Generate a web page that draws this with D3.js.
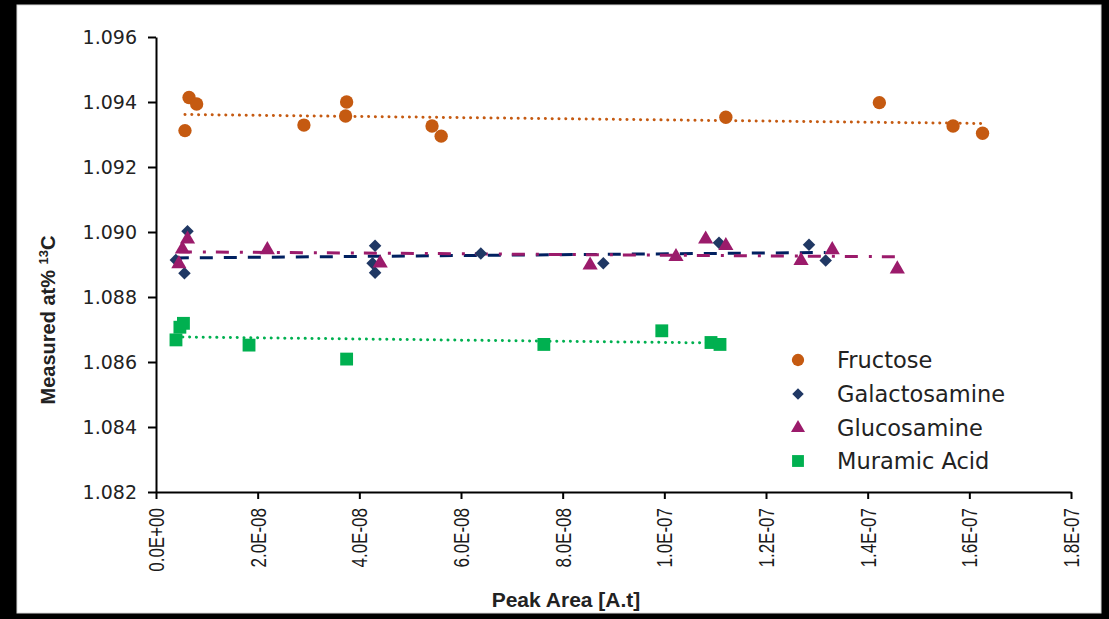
<!DOCTYPE html>
<html><head><meta charset="utf-8">
<script src="https://cdn.jsdelivr.net/npm/d3@7"></script>
<style>html,body{margin:0;padding:0;background:#000;}svg{display:block;}</style>
</head><body>
<svg id="chart" width="1109" height="619"></svg>
<script>
// ---- data ----
const seriesNames = ["Fructose", "Galactosamine", "Glucosamine", "Muramic Acid"];
const fructoseX = [6.5e-9, 8.0e-9, 5.7e-9, 2.91e-8, 3.75e-8, 3.73e-8, 5.43e-8, 5.61e-8, 1.121e-7, 1.423e-7, 1.568e-7, 1.626e-7];
const fructoseY = [1.09414, 1.09394, 1.09312, 1.09329, 1.0940, 1.09357, 1.09326, 1.09295, 1.09353, 1.09398, 1.09326, 1.09304];
const galactosamineX = [6.2e-9, 3.9e-9, 5.6e-9, 4.31e-8, 4.26e-8, 4.31e-8, 6.39e-8, 8.8e-8, 1.1075e-7, 1.2846e-7, 1.3174e-7];
const galactosamineY = [1.09002, 1.08914, 1.08873, 1.08958, 1.08904, 1.08875, 1.08934, 1.08904, 1.08967, 1.08961, 1.08912];
const glucosamineX = [6.2e-9, 5.2e-9, 4.5e-9, 2.19e-8, 4.41e-8, 8.54e-8, 1.0229e-7, 1.0813e-7, 1.121e-7, 1.2689e-7, 1.3303e-7, 1.4583e-7];
const glucosamineY = [1.08978, 1.08947, 1.08902, 1.08945, 1.08904, 1.08898, 1.08924, 1.08978, 1.08958, 1.08912, 1.08945, 1.08886];
const muramicX = [3.93e-9, 4.7e-9, 5.4e-9, 1.83e-8, 3.75e-8, 7.63e-8, 9.95e-8, 1.0918e-7, 1.1095e-7];
const muramicY = [1.08668, 1.08707, 1.08719, 1.08652, 1.08609, 1.08654, 1.08696, 1.0866, 1.08654];
const yTickValues = [1.082, 1.084, 1.086, 1.088, 1.090, 1.092, 1.094, 1.096];
const xTickValues = [0, 2e-8, 4e-8, 6e-8, 8e-8, 1e-7, 1.2e-7, 1.4e-7, 1.6e-7, 1.8e-7];
const xTickLabels = ["0.0E+00","2.0E-08","4.0E-08","6.0E-08","8.0E-08","1.0E-07","1.2E-07","1.4E-07","1.6E-07","1.8E-07"];

// ---- styles ----
const styles = [
  {color:"#C55A11", line:"#C55A11", shape:d3.symbolCircle, size:140, dash:"0.1 6.7", cap:"round", lw:3},
  {color:"#203864", line:"#002060", shape:d3.symbolDiamond2, size:100, dash:"13 11", cap:"butt", lw:3},
  {color:"#9B1B6B", line:"#9B1B6B", shape:d3.symbolTriangle, size:100, dash:"13 11 3 10", cap:"butt", lw:3},
  {color:"#00B050", line:"#00B050", shape:d3.symbolSquare, size:165, dash:"0.1 6.7", cap:"round", lw:3}
];
const xs = [fructoseX, galactosamineX, glucosamineX, muramicX];
const ys = [fructoseY, galactosamineY, glucosamineY, muramicY];

const svg = d3.select("#chart");
svg.append("rect").attr("x",0).attr("y",0).attr("width",1109).attr("height",619).attr("fill","#000");
svg.append("rect").attr("x",17).attr("y",5).attr("width",1084).attr("height",608).attr("fill","#fff").attr("stroke","#d9d9d9").attr("stroke-width",1);

const x = d3.scaleLinear().domain([0, 1.8e-7]).range([156, 1071]);
const y = d3.scaleLinear().domain([1.082, 1.096]).range([492, 37]);

// axes
const yAxis = svg.append("g").attr("transform","translate(156,0)")
  .call(d3.axisLeft(y).tickValues(yTickValues).tickFormat(d3.format(".3f")).tickSize(8).tickSizeOuter(0).tickPadding(11));
yAxis.attr("font-family", null).attr("font-size", null);
yAxis.selectAll("path,line").attr("stroke","#000").attr("stroke-width",2);
yAxis.selectAll("text").style("font-family","'DejaVu Sans'").style("font-size","19px").attr("fill","#222");

const xAxis = svg.append("g").attr("transform","translate(0,492)")
  .call(d3.axisBottom(x).tickValues(xTickValues).tickFormat((d,i)=>xTickLabels[i]).tickSize(7).tickSizeOuter(0));
xAxis.attr("font-family", null).attr("font-size", null);
xAxis.selectAll("path,line").attr("stroke","#000").attr("stroke-width",2);
xAxis.selectAll("text").style("font-family","'Liberation Sans'").style("font-size","17px").attr("fill","#1a1a1a")
  .attr("transform","rotate(-90) scale(1,1.25)").attr("text-anchor","end").attr("x",-16).attr("y",0).attr("dy","0.35em");

// titles
svg.append("text").attr("transform","translate(55,320) rotate(-90)").attr("text-anchor","middle")
  .attr("font-family","Liberation Sans").attr("font-weight","bold").attr("font-size",20).attr("fill","#222")
  .html('Measured at% <tspan baseline-shift="super" font-size="13">13</tspan>C');
svg.append("text").attr("x",566).attr("y",607).attr("text-anchor","middle")
  .attr("font-family","Liberation Sans").attr("font-weight","bold").attr("font-size",21).attr("fill","#222")
  .text("Peak Area [A.t]");

// trendlines (least squares over data range)
function fit(X, Y){
  const mx = d3.mean(X), my = d3.mean(Y);
  let sxy=0, sxx=0;
  X.forEach((v,i)=>{ sxy += (v-mx)*(Y[i]-my); sxx += (v-mx)*(v-mx); });
  const b = sxy/sxx, a = my - b*mx;
  const [x0,x1] = d3.extent(X);
  return [[x0, a+b*x0],[x1, a+b*x1]];
}
const line = d3.line().x(d=>x(d[0])).y(d=>y(d[1]));
xs.forEach((X,i)=>{
  const s = styles[i];
  svg.append("path").attr("d", line(fit(X, ys[i]))).attr("fill","none")
    .attr("stroke", s.line).attr("stroke-width", s.lw).attr("stroke-dasharray", s.dash).attr("stroke-linecap", s.cap);
});

// markers
xs.forEach((X,i)=>{
  const s = styles[i];
  const sym = d3.symbol().type(s.shape).size(s.size);
  svg.append("g").selectAll("path").data(X.map((v,j)=>[v, ys[i][j]])).join("path")
    .attr("d", sym).attr("transform", d=>`translate(${x(d[0])},${y(d[1])})`)
    .attr("fill", s.color);
});

// legend
const legendY = [360, 394, 428, 461];
seriesNames.forEach((name,i)=>{
  const s = styles[i];
  svg.append("path").attr("d", d3.symbol().type(s.shape).size(s.size*0.85)())
    .attr("transform", `translate(798,${legendY[i]})`).attr("fill", s.color);
  svg.append("text").attr("x",837).attr("y",legendY[i]).attr("dy","0.35em")
    .attr("font-family","DejaVu Sans").attr("font-size",22.5).attr("fill","#222").text(name);
});
</script>
</body></html>
